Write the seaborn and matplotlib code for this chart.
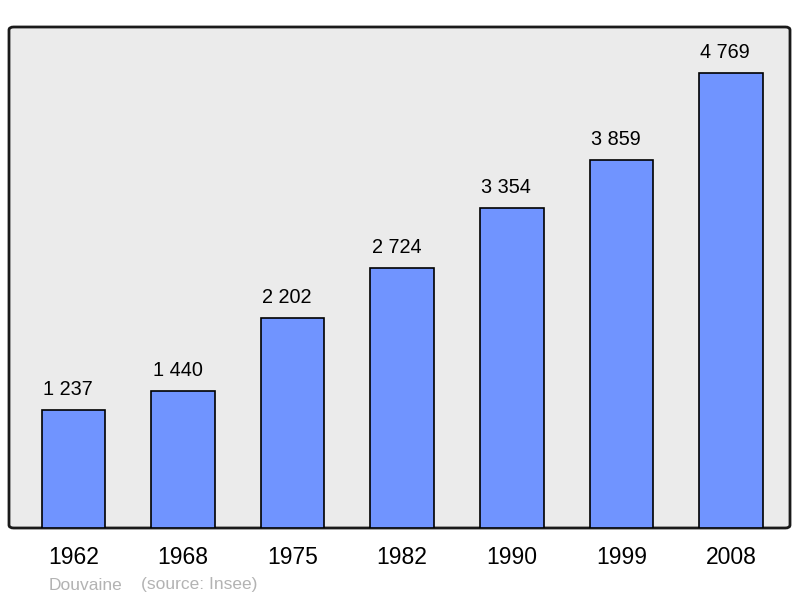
import matplotlib
matplotlib.use("Agg")
import matplotlib.pyplot as plt
import seaborn as sns
from matplotlib.patches import FancyBboxPatch

years = ["1962", "1968", "1975", "1982", "1990", "1999", "2008"]
population = [1237, 1440, 2202, 2724, 3354, 3859, 4769]
labels = ["1 237", "1 440", "2 202", "2 724", "3 354", "3 859", "4 769"]

sns.set_theme(style="white")
plt.rcParams["font.family"] = ["Liberation Sans", "DejaVu Sans"]

fig = plt.figure(figsize=(8, 5.98), dpi=100)
ax = fig.add_axes([9 / 800, 70 / 598, 781 / 800, 501 / 598])
ax.set_facecolor("none")

# rounded grey panel behind bars
panel = FancyBboxPatch((0, 0), 1, 1, boxstyle="round,pad=0,rounding_size=0.006",
                       transform=ax.transAxes, facecolor="#ebebeb",
                       edgecolor="#1a1a1a", linewidth=2, zorder=0, clip_on=False)
ax.add_patch(panel)

sns.barplot(x=years, y=population, color="#7094ff", edgecolor="black",
            linewidth=1.2, width=0.58, saturation=1, ax=ax, zorder=2)

for i, (v, lab) in enumerate(zip(population, labels)):
    ax.annotate(lab, (i, v), xytext=(-4, 14.5), textcoords="offset points",
                ha="center", va="center", fontsize=14.3, color="black")

ax.set_xlim(-0.589, 6.54)
ax.set_ylim(0, 5251)
ax.set_yticks([])
ax.tick_params(axis="x", length=0, labelsize=16.5, pad=13, colors="black")
for s in ax.spines.values():
    s.set_visible(False)
ax.set_xlabel("")
ax.set_ylabel("")

fig.text(49 / 800, 1 - 585 / 598, "Douvaine", fontsize=12.5, color="#b3b3b3", va="center")
fig.text(141 / 800, 1 - 585 / 598, "(source: Insee)", fontsize=12.5, color="#b3b3b3", va="center")

fig.savefig("out.png", dpi=100, facecolor="white")
